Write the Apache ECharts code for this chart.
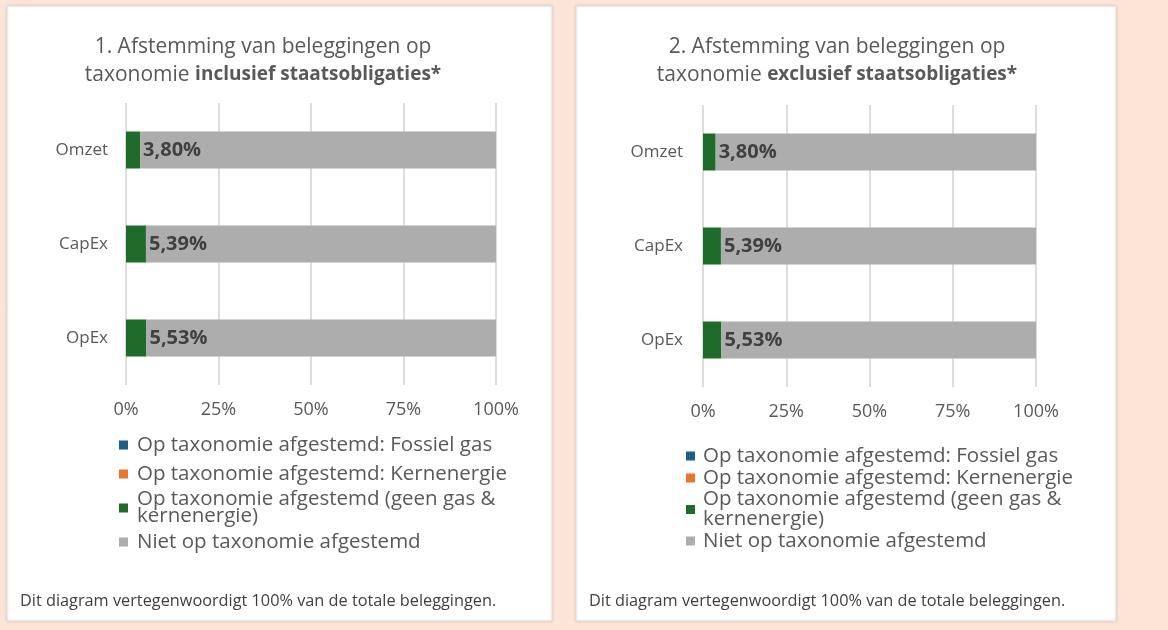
<!DOCTYPE html>
<html>
<head>
<meta charset="utf-8">
<script src="https://cdn.jsdelivr.net/npm/echarts@6/dist/echarts.min.js"></script>
<style>
  html, body { margin: 0; padding: 0; background: #fce4d6; }
  #chart { width: 1168px; height: 630px; }
</style>
</head>
<body>
<div id="chart"></div>
<script>
var categories = ['Omzet', 'CapEx', 'OpEx'];
var seriesNames = [
    'Op taxonomie afgestemd: Fossiel gas',
    'Op taxonomie afgestemd: Kernenergie',
    'Op taxonomie afgestemd (geen gas & kernenergie)',
    'Niet op taxonomie afgestemd'
];
var seriesColors = ['#1f5f86', '#e8762d', '#1e6b2a', '#adadad'];
// panel 1: inclusief staatsobligaties
var fossielIncl = [0, 0, 0];
var kernIncl = [0, 0, 0];
var groenIncl = [3.80, 5.39, 5.53];
var nietIncl = [96.20, 94.61, 94.47];
// panel 2: exclusief staatsobligaties
var fossielExcl = [0, 0, 0];
var kernExcl = [0, 0, 0];
var groenExcl = [3.80, 5.39, 5.53];
var nietExcl = [96.20, 94.61, 94.47];
var xTicks = [0, 25, 50, 75, 100];

var font = '"Open Sans", "Liberation Sans", sans-serif';
var chart = echarts.init(document.getElementById('chart'));

// legend text: the long name wraps over two tighter lines
function legendName(name) {
    if (name === seriesNames[2]) { return '{m|Op taxonomie afgestemd (geen gas &}\n{m|kernenergie)}'; }
    return name;
}

function makeSeries(gridIdx, data) {
    return data.map(function (vals, i) {
        return {
            name: seriesNames[i],
            type: 'bar',
            stack: 'p' + gridIdx,
            xAxisIndex: gridIdx,
            yAxisIndex: gridIdx,
            barWidth: 37,
            itemStyle: {color: seriesColors[i]},
            label: {
                show: i === 2,
                position: 'right',
                distance: 3,
                color: '#404040',
                fontFamily: font,
                fontWeight: 'bold',
                fontSize: 20,
                formatter: function (p) { return p.value.toFixed(2).replace('.', ',') + '%'; }
            },
            emphasis: {disabled: true},
            data: vals
        };
    });
}

function xAxis(gridIdx) {
    return {
        type: 'value',
        gridIndex: gridIdx,
        min: 0,
        max: 100,
        interval: 25,
        axisLine: {show: false},
        axisTick: {show: false},
        splitLine: {lineStyle: {color: '#dddddd', width: 2}},
        axisLabel: {
            color: '#595959', fontFamily: font, fontSize: 18, margin: 16,
            formatter: function (v) { return xTicks.indexOf(v) >= 0 ? v + '%' : ''; }
        }
    };
}

function yAxis(gridIdx, margin) {
    return {
        type: 'category',
        gridIndex: gridIdx,
        inverse: true,
        data: categories,
        axisLine: {show: false},
        axisTick: {show: false},
        axisLabel: {color: '#595959', fontFamily: font, fontSize: 17, margin: margin}
    };
}

var titleRich = {
    n: {fontFamily: font, fontSize: 21, color: '#595959', fontWeight: 'normal', lineHeight: 28},
    b: {fontFamily: font, fontSize: 19, color: '#595959', fontWeight: 'bold', lineHeight: 28}
};

function legend(left, top, iconSize, lineH, multiH, gap, pad) {
    return {
        orient: 'vertical', left: left, top: top, icon: 'rect',
        itemWidth: iconSize, itemHeight: iconSize, itemGap: gap,
        data: seriesNames,
        formatter: legendName,
        selectedMode: false,
        textStyle: {
            color: '#595959', fontFamily: font, fontSize: 20.5, lineHeight: lineH, padding: [0, 0, 0, pad],
            rich: {
                m: {color: '#595959', fontFamily: font, fontSize: 20.5, lineHeight: multiH}
            }
        }
    };
}

var option = {
    backgroundColor: '#fce4d6',
    animation: false,
    graphic: [
        {type: 'rect', shape: {x: 7, y: 6, width: 545, height: 615},
         style: {fill: '#ffffff', stroke: '#dedede', lineWidth: 1, shadowBlur: 3, shadowColor: 'rgba(0,0,0,0.12)'}, z: -10},
        {type: 'rect', shape: {x: 576, y: 6, width: 540, height: 615},
         style: {fill: '#ffffff', stroke: '#dedede', lineWidth: 1, shadowBlur: 3, shadowColor: 'rgba(0,0,0,0.12)'}, z: -10},
        {type: 'text', left: 20, top: 593,
         style: {text: 'Dit diagram vertegenwoordigt 100% van de totale beleggingen.', font: '16.3px ' + font, fill: '#404040'}},
        {type: 'text', left: 589, top: 593,
         style: {text: 'Dit diagram vertegenwoordigt 100% van de totale beleggingen.', font: '16.3px ' + font, fill: '#404040'}}
    ],
    title: [
        {
            text: '{n|1. Afstemming van beleggingen op}\n{n|taxonomie }{b|inclusief staatsobligaties*}',
            left: 258, top: 28, textAlign: 'center',
            textStyle: {rich: titleRich, fontSize: 19, fontWeight: 'normal', lineHeight: 28}
        },
        {
            text: '{n|2. Afstemming van beleggingen op}\n{n|taxonomie }{b|exclusief staatsobligaties*}',
            left: 832, top: 28, textAlign: 'center',
            textStyle: {rich: titleRich, fontSize: 19, fontWeight: 'normal', lineHeight: 28}
        }
    ],
    legend: [
        legend(114, 426, 9, 28, 17, 1, 4),
        legend(681, 440, 9, 22, 20, 0, 3)
    ],
    grid: [
        {left: 126, width: 370, top: 103, height: 282},
        {left: 703, width: 333, top: 105, height: 282}
    ],
    xAxis: [xAxis(0), xAxis(1)],
    yAxis: [yAxis(0, 18), yAxis(1, 20)],
    series: makeSeries(0, [fossielIncl, kernIncl, groenIncl, nietIncl])
        .concat(makeSeries(1, [fossielExcl, kernExcl, groenExcl, nietExcl]))
};
chart.setOption(option);
</script>
</body>
</html>
